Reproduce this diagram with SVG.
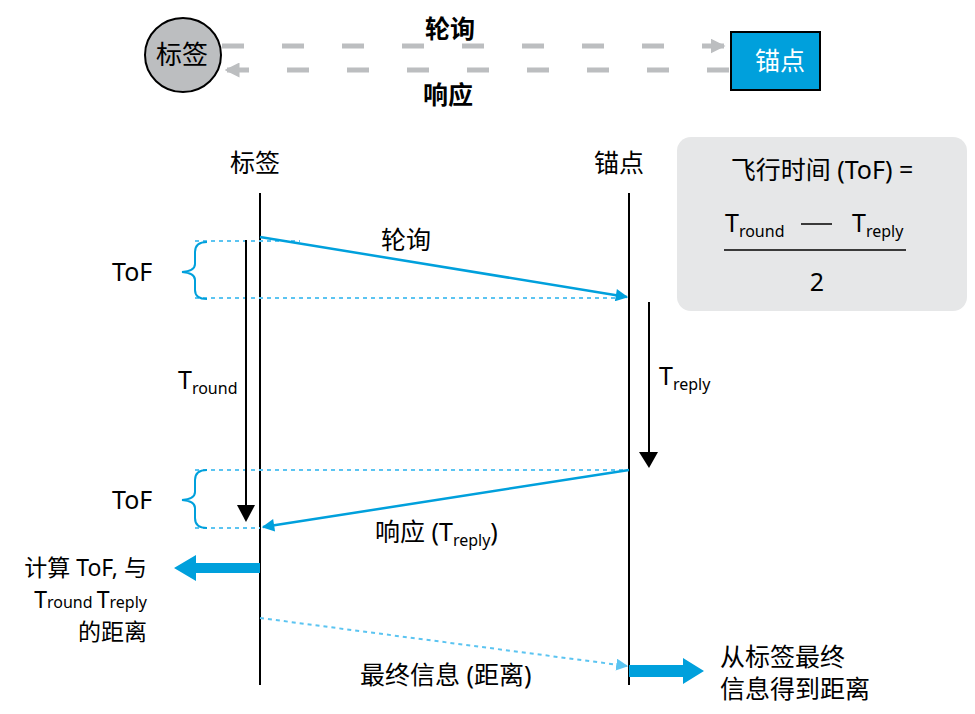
<svg xmlns="http://www.w3.org/2000/svg" width="975" height="714" viewBox="0 0 975 714">
<style>
text{font-family:"Noto Sans","Noto Sans CJK SC",sans-serif;fill:#000}
.t22{font-size:25px}
.t23{font-size:23px}
.b{font-weight:bold}
.sub{font-size:16px}
.life{stroke:#000;stroke-width:2;fill:none}
.dot{stroke:#5bc4f1;stroke-width:2;stroke-dasharray:4 4;fill:none}
.brace{stroke:#00a0dc;stroke-width:2;fill:none}
.gdash{stroke:#bcbec0;stroke-width:5;stroke-dasharray:22 38;fill:none}
</style>
<defs>
<marker id="ga" viewBox="0 0 10 10" refX="9" refY="5" markerWidth="3" markerHeight="3" orient="auto" markerUnits="strokeWidth"><path d="M0,0 L10,5 L0,10 z" fill="#bcbec0"/></marker>
<marker id="ba" viewBox="0 0 10 10" refX="9" refY="5" markerWidth="6" markerHeight="5" orient="auto" markerUnits="strokeWidth"><path d="M0,0 L10,5 L0,10 z" fill="#00a0dc"/></marker>
<marker id="la" viewBox="0 0 10 10" refX="9" refY="5" markerWidth="6" markerHeight="6" orient="auto" markerUnits="strokeWidth"><path d="M0,0 L10,5 L0,10 z" fill="#5bc4f1"/></marker>
</defs>

<g id="top-tag">
<ellipse cx="183" cy="55" rx="38" ry="37" fill="#bcbec0" stroke="#000" stroke-width="2"/>
<text x="182" y="64" style="font-size:26px" text-anchor="middle">标签</text>
</g>
<g id="top-anchor">
<rect x="731" y="32" width="89" height="58" fill="#00a0dc" stroke="#000" stroke-width="2"/>
<text x="780" y="70" class="t22" text-anchor="middle" style="fill:#fff">锚点</text>
</g>
<g id="top-connectors">
<line x1="222" y1="46" x2="724" y2="46" class="gdash" marker-end="url(#ga)"/>
<line x1="729" y1="70" x2="226" y2="70" class="gdash" marker-end="url(#ga)"/>
<text x="450" y="38" class="t22 b" text-anchor="middle">轮询</text>
<text x="448" y="104" class="t22 b" text-anchor="middle">响应</text>
</g>

<g id="tag-lifeline">
<text x="255" y="172" class="t22" text-anchor="middle">标签</text>
<line x1="260" y1="193" x2="260" y2="685" class="life"/>
</g>
<g id="anchor-lifeline">
<text x="619" y="172" class="t22" text-anchor="middle">锚点</text>
<line x1="629" y1="193" x2="629" y2="685" class="life"/>
</g>

<g id="formula">
<rect x="677" y="137" width="290" height="174" rx="14" fill="#e6e7e8"/>
<text x="822" y="179" style="font-size:25px" text-anchor="middle">飞行时间 (ToF) =</text>
<text x="725" y="232" style="font-size:25px">T<tspan class="sub" dy="5">round</tspan></text>
<line x1="801" y1="224" x2="832" y2="224" stroke="#000" stroke-width="1.5"/>
<text x="852" y="232" style="font-size:25px">T<tspan class="sub" dy="5">reply</tspan></text>
<line x1="724" y1="250" x2="906" y2="250" stroke="#000" stroke-width="1.5"/>
<text x="817" y="291" style="font-size:25px" text-anchor="middle">2</text>
</g>

<g id="connectors">
<line x1="195" y1="241" x2="300" y2="241" class="dot"/>
<line x1="195" y1="298" x2="620" y2="298" class="dot"/>
<line x1="195" y1="470" x2="629" y2="470" class="dot"/>
<line x1="195" y1="528" x2="260" y2="528" class="dot"/>
<line x1="260" y1="237" x2="627" y2="297" stroke="#00a0dc" stroke-width="2.5" marker-end="url(#ba)"/>
<line x1="629" y1="470" x2="263" y2="527" stroke="#00a0dc" stroke-width="2.5" marker-end="url(#ba)"/>
<line x1="260" y1="618" x2="627" y2="666" class="dot" marker-end="url(#la)"/>
<line x1="246" y1="240" x2="246" y2="508" stroke="#000" stroke-width="2"/>
<path d="M237,505 L255,505 L246,522 z" fill="#000"/>
<line x1="649" y1="302" x2="649" y2="455" stroke="#000" stroke-width="2"/>
<path d="M639,452 L658,452 L649,468 z" fill="#000"/>
<path d="M207,242 Q195,242 195,252 L195,264 Q195,271 182,272 Q195,273 195,280 L195,290 Q195,299 207,299" class="brace"/>
<path d="M207,470 Q195,470 195,480 L195,492 Q195,499 182,500 Q195,501 195,508 L195,518 Q195,528 207,528" class="brace"/>
<path d="M260,563 L196,563 L196,555 L174,568 L196,581 L196,573 L260,573 z" fill="#00a0dc"/>
<path d="M629,665 L683,665 L683,658 L704,671 L683,684 L683,677 L629,677 z" fill="#00a0dc"/>
</g>

<g id="labels">
<text x="406" y="249" class="t22" text-anchor="middle">轮询</text>
<text x="112" y="281" style="font-size:25px">ToF</text>
<text x="112" y="509" style="font-size:25px">ToF</text>
<text x="178" y="389" style="font-size:25px">T<tspan class="sub" dy="5">round</tspan></text>
<text x="659" y="385" style="font-size:25px">T<tspan class="sub" dy="5">reply</tspan></text>
<text x="375" y="541" class="t22">响应 (T<tspan class="sub" dy="5">reply</tspan><tspan dy="-5">)</tspan></text>
<text x="147" y="576" class="t23" text-anchor="end">计算 ToF, 与</text>
<text x="147" y="608" class="t23" text-anchor="end">T<tspan class="sub">round </tspan>T<tspan class="sub">reply</tspan></text>
<text x="147" y="640" class="t23" text-anchor="end">的距离</text>
<text x="360" y="684" class="t22">最终信息 (距离)</text>
<text x="720" y="666" class="t22">从标签最终</text>
<text x="720" y="698" class="t22">信息得到距离</text>
</g>
</svg>
